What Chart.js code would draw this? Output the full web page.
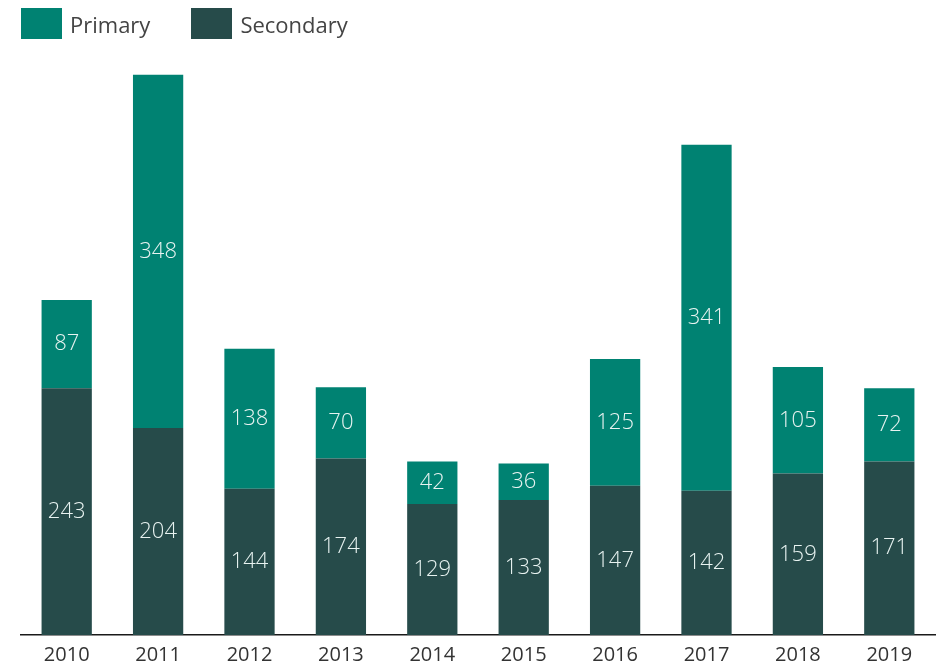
<!DOCTYPE html>
<html>
<head>
<meta charset="utf-8">
<script src="https://cdn.jsdelivr.net/npm/chart.js@4"></script>
<style>
  html, body { margin: 0; padding: 0; background: #fff; overflow: hidden; }
  #wrap { position: relative; width: 943px; height: 661px; overflow: hidden; }
  #legend { position: absolute; left: 21px; top: 8px; font-family: "Open Sans", sans-serif; font-size: 22px; color: #444; display: flex; }
  .item { display: flex; align-items: center; margin-right: 41px; }
  .box { width: 41px; height: 31px; margin-right: 8px; }
</style>
</head>
<body>
<div id="wrap">
  <canvas id="myChart" width="943" height="667"></canvas>
  <div id="legend"></div>
</div>
<script>
var years = ['2010','2011','2012','2013','2014','2015','2016','2017','2018','2019'];
var secondary = [243, 204, 144, 174, 129, 133, 147, 142, 159, 171];
var primary = [87, 348, 138, 70, 42, 36, 125, 341, 105, 72];
var seriesNames = ['Primary', 'Secondary'];
var colPrimary = '#008272';
var colSecondary = '#264b4a';

// legenda html
var leg = document.getElementById('legend');
[[seriesNames[0], colPrimary], [seriesNames[1], colSecondary]].forEach(function(it){
    var d = document.createElement('div');
    d.className = 'item';
    d.innerHTML = '<div class="box" style="background:' + it[1] + '"></div><span>' + it[0] + '</span>';
    leg.appendChild(d);
});

// etiquetas dentro de las barras
var barLabels = {
    id: 'barLabels',
    afterDatasetsDraw: function(chart){
        var c = chart.ctx;
        c.save();
        c.fillStyle = '#e8f3f1';
        c.font = '300 22px "Open Sans", sans-serif';
        c.textAlign = 'center';
        c.textBaseline = 'middle';
        chart.data.datasets.forEach(function(ds, i){
            chart.getDatasetMeta(i).data.forEach(function(bar, j){
                var mid = (bar.y + bar.base) / 2;
                c.fillText(ds.data[j], bar.x, mid);
            });
        });
        c.restore();
    }
};

var ctx = document.getElementById('myChart').getContext('2d');
var myChart = new Chart(ctx, {
    type: 'bar',
    data: {
        labels: years,
        datasets: [{
            label: seriesNames[1],
            data: secondary,
            backgroundColor: colSecondary,
            barPercentage: 0.55,
            categoryPercentage: 1
        }, {
            label: seriesNames[0],
            data: primary,
            backgroundColor: colPrimary,
            barPercentage: 0.55,
            categoryPercentage: 1
        }]
    },
    options: {
        responsive: false,
        animation: false,
        layout: { padding: { left: 21, right: 8, top: 29, bottom: 0 } },
        plugins: {
            legend: { display: false },
            tooltip: { enabled: false }
        },
        scales: {
            x: {
                stacked: true,
                grid: { display: false },
                border: { display: true, color: '#1a1a1a', width: 1.5 },
                ticks: { color: '#333', font: { family: 'Open Sans', size: 20 }, padding: 0 }
            },
            y: {
                stacked: true,
                display: false,
                min: 0,
                max: 597
            }
        }
    },
    plugins: [barLabels]
});
</script>
</body>
</html>
